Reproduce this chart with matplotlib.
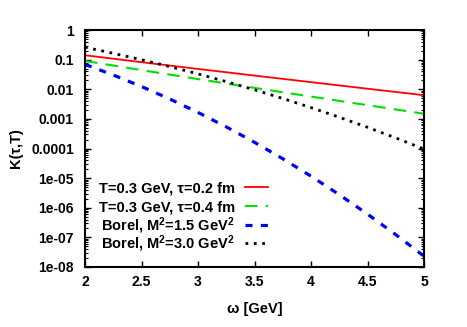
import matplotlib
matplotlib.use("Agg")
import matplotlib.pyplot as plt
from matplotlib.lines import Line2D
from matplotlib.ticker import FixedLocator, LogLocator, NullFormatter

plt.rcParams['font.family'] = ['Liberation Sans', 'DejaVu Sans']
plt.rcParams['font.weight'] = 'bold'
plt.rcParams['mathtext.fontset'] = 'custom'
plt.rcParams['mathtext.rm'] = 'Liberation Sans:bold'
plt.rcParams['mathtext.it'] = 'Liberation Sans:bold'
plt.rcParams['mathtext.bf'] = 'Liberation Sans:bold'
plt.rcParams['mathtext.default'] = 'rm'

# Data
omega_k = [2.0, 2.5, 3.0, 3.5, 4.0, 4.5, 5.0]
k_tau02 = [0.1416, 0.08239, 0.04876, 0.02909, 0.01744, 0.010482, 0.006306]
k_tau04 = [0.09081, 0.04448, 0.02215, 0.011165, 0.005679, 0.002909, 0.0014968]

omega_b = [2.0, 2.25, 2.5, 2.75, 3.0, 3.25, 3.5, 3.75, 4.0, 4.25, 4.5, 4.75, 5.0]
borel_15 = [0.06948, 0.030416, 0.012402, 0.0047017, 0.0016525, 0.00053828,
            0.00016227, 4.5237e-5, 1.1655e-5, 2.772e-6, 6.093e-7, 1.2366e-7, 2.311e-8]
borel_30 = [0.26360, 0.16443, 0.09961, 0.058475, 0.033191, 0.018201,
            0.0096294, 0.0049118, 0.002414, 0.0011425, 0.00052040, 0.00022803, 9.615e-5]

labels = ['T=0.3 GeV, \u03c4=0.2 fm', 'T=0.3 GeV, \u03c4=0.4 fm',
          'Borel, M$^2$=1.5 GeV$^2$', 'Borel, M$^2$=3.0 GeV$^2$']
xticks = [2, 2.5, 3, 3.5, 4, 4.5, 5]
xticklabels = ['2', '2.5', '3', '3.5', '4', '4.5', '5']
yticks = [1, 0.1, 0.01, 0.001, 0.0001, 1e-5, 1e-6, 1e-7, 1e-8]
yticklabels = ['1', '0.1', '0.01', '0.001', '0.0001', '1e-05', '1e-06', '1e-07', '1e-08']

styles = [
    dict(color='#ff0000', lw=1.3, ls='-'),
    dict(color='#00e000', lw=1.5, ls=(0, (6, 4))),
    dict(color='#0000ff', lw=2.3, ls=(0, (2.2, 2.6))),
    dict(color='#000000', lw=2.0, ls=(0, (1, 2))),
]

fig = plt.figure(figsize=(4.67, 3.27), dpi=100)
ax = fig.add_axes([0.182, 0.1835, 0.726, 0.7245])

ax.plot(omega_k, k_tau02, **styles[0])
ax.plot(omega_k, k_tau04, **styles[1])
ax.plot(omega_b, borel_15, **styles[2])
ax.plot(omega_b, borel_30, **styles[3])

ax.set_yscale('log')
ax.set_xlim(2, 5)
ax.set_ylim(1e-8, 1)
ax.xaxis.set_major_locator(FixedLocator(xticks))
ax.set_xticklabels(xticklabels, fontweight='bold')
ax.set_yticks(yticks)
ax.set_yticklabels(yticklabels, fontweight='bold')
ax.yaxis.set_minor_locator(LogLocator(base=10, subs=[2, 3, 4, 5, 6, 7, 8, 9], numticks=20))
ax.yaxis.set_minor_formatter(NullFormatter())

ax.tick_params(which='both', direction='in', top=True, right=True, labelsize=10)
ax.tick_params(which='major', length=4, width=1)
ax.tick_params(which='minor', length=2, width=0.8)
ax.tick_params(axis='y', pad=8)
ax.tick_params(axis='x', pad=6)
for s in ax.spines.values():
    s.set_linewidth(1.5)

ax.set_xlabel('\u03c9 [GeV]', fontsize=10.5, fontweight='bold', labelpad=9)
ax.set_ylabel('K(\u03c4,T)', fontsize=10.5, fontweight='bold', labelpad=6)

# Manual gnuplot-style key (right-aligned text, sample to the right)
rows_y = [0.3363, 0.2574, 0.1793, 0.0996]
for lab, st, yy in zip(labels, styles, rows_y):
    ax.text(0.442, yy - 0.0232, lab, transform=ax.transAxes, ha='right', va='baseline',
            fontsize=10.5, fontweight='bold')
    ax.add_line(Line2D([0.472, 0.540], [yy, yy], transform=ax.transAxes, **st))

fig.savefig('out.png', dpi=100)
